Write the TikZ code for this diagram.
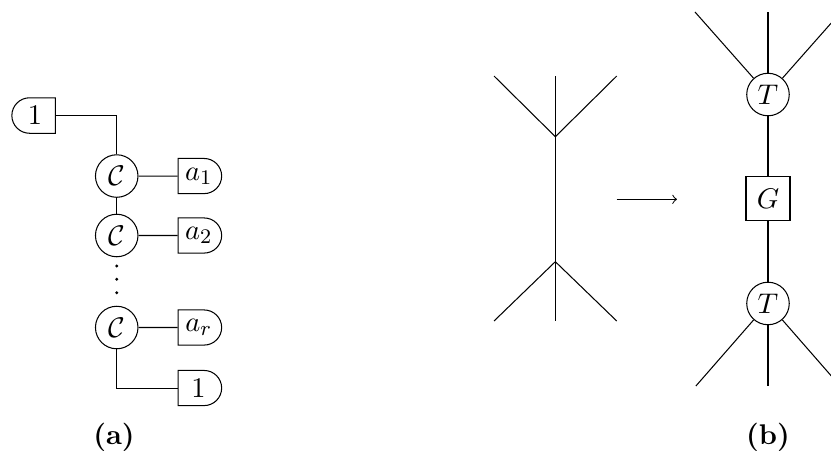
\documentclass[tikz,border=0pt]{standalone}
\usetikzlibrary{shapes.misc}

\begin{document}
\begin{tikzpicture}[font=\fontsize{10.95}{13.6}\selectfont,
  tens/.style={circle,draw,minimum size=0.575cm,inner sep=0pt},
  legr/.style={rounded rectangle,rounded rectangle left arc=none,draw,
    minimum width=0.66cm,minimum height=0.475cm,inner sep=1pt},
  legl/.style={rounded rectangle,rounded rectangle right arc=none,draw,
    minimum width=0.66cm,minimum height=0.48cm,inner sep=1pt},
  gate/.style={draw,minimum size=0.595cm,inner sep=0pt}]
\useasboundingbox (0,0) rectangle (11.235,6.084);
\clip (0,0) rectangle (11.235,6.084);
% (a) chain
\node[legl,anchor=east] (one) at (0.757,4.522) {$1$};
\node[tens] (c1) at (1.578,3.704) {$\mathcal{C}$};
\node[tens] (c2) at (1.578,2.900) {$\mathcal{C}$};
\node[tens] (cr) at (1.578,1.656) {$\mathcal{C}$};
\foreach \y in {2.488,2.308,2.127}
  \fill (1.578,\y) circle (0.022);
\node[legr,anchor=west] (a1) at (2.400,3.704) {$a_1$};
\node[legr,anchor=west] (a2) at (2.400,2.900) {$a_2$};
\node[legr,anchor=west] (ar) at (2.400,1.656) {$a_r$};
\node[legr,anchor=west] (bone) at (2.400,0.838) {$1$};
\draw (one.east) -| (c1.north);
\draw (c1) -- (a1);
\draw (c1) -- (c2);
\draw (c2) -- (a2);
\draw (cr) -- (ar);
\draw (cr.south) |- (bone.west);
\node (laba) at (1.541,0.176) {\textbf{(a)}};
% (b) before
\coordinate (uj) at (7.508,4.236);
\coordinate (mid) at (7.508,3.389);
\coordinate (lj) at (7.508,2.546);
\foreach \x/\n in {6.679/1,7.508/2,8.338/3}{
  \coordinate (u\n) at (\x,5.056);
  \coordinate (l\n) at (\x,1.744);
  \draw (uj) -- (u\n);
  \draw (lj) -- (l\n);
}
\draw (uj) -- (mid);
\draw (mid) -- (lj);
\coordinate (arrs) at (8.338,3.389);
\coordinate (arre) at (9.153,3.389);
\draw[->] (arrs) -- (arre);
% (b) after
\node[tens] (tt) at (10.383,4.806) {$T$};
\node[gate] (g) at (10.383,3.394) {$G$};
\node[tens] (tb) at (10.383,1.981) {$T$};
\draw (tt) -- (g);
\draw (g) -- (tb);
\foreach \xu/\xd/\n in {9.396/9.408/1,10.383/10.383/2,11.370/11.358/3}{
  \coordinate (tu\n) at (\xu,5.922);
  \coordinate (td\n) at (\xd,0.865);
  \draw (tt) -- (tu\n);
  \draw (tb) -- (td\n);
}
\node (labb) at (10.383,0.176) {\textbf{(b)}};
\end{tikzpicture}
\end{document}
